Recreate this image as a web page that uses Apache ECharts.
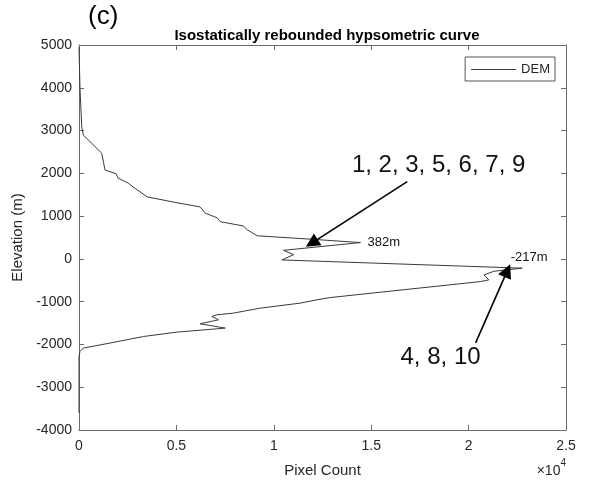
<!DOCTYPE html>
<html><head><meta charset="utf-8">
<script src="https://cdn.jsdelivr.net/npm/echarts@6/dist/echarts.min.js"></script>
<style>html,body{margin:0;padding:0;background:#fff}#c{width:590px;height:483px}</style>
</head><body><div id="c"></div>
<script>
// Hypsometric curve (pixel count vs elevation), in drawing order
const pixelCounts = [0, 50, 139, 221, 1167, 1337, 1900, 2000, 2520, 2780, 3500, 4830, 6220, 6300, 6480, 7095, 7250, 8430, 8640, 9150, 11900, 14450, 10500, 11020, 10420, 22750, 21300, 20790, 21040, 20620, 12900, 12220, 11360, 9306, 7920, 7080, 6820, 7160, 6220, 7510, 5020, 3310, 1590, 220, 50, 0, 0];
const elevations  = [4950, 4000, 3090, 2895, 2470, 2078, 1990, 1890, 1775, 1680, 1450, 1330, 1215, 1200, 1070, 960, 870, 770, 680, 540, 460, 382, 200, 100, -25, -217, -290, -374, -490, -530, -904, -957, -1034, -1151, -1268, -1308, -1347, -1424, -1518, -1618, -1712, -1814, -1968, -2085, -2165, -2281, -3600];
const xTicks = [0, 5000, 10000, 15000, 20000, 25000];
const yTicks = [-4000, -3000, -2000, -1000, 0, 1000, 2000, 3000, 4000, 5000];
const peakLabels = [{ name: '382m', count: 14450, elev: 382 }, { name: '-217m', count: 21800, elev: 40 }];
const groupLabels = [{ name: '1, 2, 3, 5, 6, 7, 9', count: 18460, elev: 2195 }, { name: '4, 8, 10', count: 18560, elev: -2312 }];
const arrows = [
  { from: [16850, 1805], to: [11950, 370] },
  { from: [20360, -1963], to: [21990, -273] }
];

const FONT = 'Liberation Sans, Arial, Helvetica, sans-serif';
const axisCol = '#6b6b6b';
const txtCol = '#262626';
const chart = echarts.init(document.getElementById('c'), null, { renderer: 'canvas' });
const data = pixelCounts.map((c, i) => [c, elevations[i]]);

const baseX = {
  type: 'value', min: xTicks[0], max: xTicks[xTicks.length - 1], interval: 5000,
  axisLine: { show: true, onZero: false, lineStyle: { color: axisCol, width: 1 } },
  axisTick: { show: true, inside: true, length: 5, lineStyle: { color: axisCol } },
  splitLine: { show: false }
};
const baseY = {
  type: 'value', min: yTicks[0], max: yTicks[yTicks.length - 1], interval: 1000,
  axisLine: { show: true, onZero: false, lineStyle: { color: axisCol, width: 1 } },
  axisTick: { show: true, inside: true, length: 5, lineStyle: { color: axisCol } },
  splitLine: { show: false }
};

chart.setOption({
  animation: false,
  backgroundColor: '#fff',
  textStyle: { fontFamily: FONT },
  title: {
    text: 'Isostatically rebounded hypsometric curve',
    left: 322, top: 23, textAlign: 'center',
    textStyle: { fontFamily: FONT, fontSize: 15, fontWeight: 'bold', color: '#000' }
  },
  grid: { left: 79, right: 24, top: 45, bottom: 53 },
  legend: {
    data: [{ name: 'DEM', icon: 'rect' }], right: 35, top: 57,
    borderColor: '#555', borderWidth: 1, borderRadius: 0,
    padding: [6, 5, 5, 6], itemWidth: 45, itemHeight: 1, itemGap: 4,
    itemStyle: { color: '#3a3a3a', borderWidth: 0 },
    lineStyle: { width: 0 },
    textStyle: { fontFamily: FONT, fontSize: 13, color: txtCol }
  },
  xAxis: [
    Object.assign({}, baseX, {
      position: 'bottom',
      name: 'Pixel Count', nameLocation: 'middle', nameGap: 33,
      nameTextStyle: { fontFamily: FONT, fontSize: 15, color: txtCol },
      axisLabel: { show: true, margin: 9, fontFamily: FONT, fontSize: 14, color: txtCol,
        formatter: v => String(v / 10000) }
    }),
    Object.assign({}, baseX, { position: 'top', axisLabel: { show: false } })
  ],
  yAxis: [
    Object.assign({}, baseY, {
      position: 'left',
      name: 'Elevation (m)', nameLocation: 'middle', nameGap: 52, nameRotate: 90,
      nameTextStyle: { fontFamily: FONT, fontSize: 15, color: txtCol },
      axisLabel: { show: true, margin: 7, fontFamily: FONT, fontSize: 14, color: txtCol,
        formatter: v => String(v) }
    }),
    Object.assign({}, baseY, { position: 'right', axisLabel: { show: false } })
  ],
  graphic: [
    { type: 'text', left: 88, top: 4, style: { text: '(c)', font: '26px ' + FONT, fill: '#000' } },
    { type: 'text', right: 24, top: 458, style: {
        text: '{a|\u00d710}{b|4}', fill: txtCol,
        rich: { a: { fontFamily: FONT, fontSize: 14, color: '#555', padding: [6, 0, 0, 0] },
                b: { fontFamily: FONT, fontSize: 10, color: '#555', verticalAlign: 'top' } } } }
  ],
  series: [
    {
      name: 'DEM', type: 'line', data: data, xAxisIndex: 0, yAxisIndex: 0,
      symbol: 'none', showSymbol: false,
      lineStyle: { color: '#3a3a3a', width: 1 },
      itemStyle: { color: '#3a3a3a' },
      markPoint: {
        symbol: 'circle', symbolSize: 0, silent: true,
        data: peakLabels.map(p => ({
          name: p.name, coord: [p.count, p.elev], value: p.name,
          label: { show: true, position: 'right', distance: 7, formatter: p.name,
            fontFamily: FONT, fontSize: 13, color: '#111' }
        })).concat(groupLabels.map(g => ({
          name: g.name, coord: [g.count, g.elev], value: g.name,
          label: { show: true, position: 'inside', formatter: g.name,
            fontFamily: FONT, fontSize: 24, color: '#111' }
        })))
      },
      markLine: {
        silent: true, symbol: ['none', 'triangle'], symbolSize: 14,
        lineStyle: { color: '#000', width: 1.6, type: 'solid' },
        itemStyle: { color: '#000' },
        label: { show: false },
        data: arrows.map(a => [{ coord: a.from }, { coord: a.to }])
      }
    }
  ]
});
</script></body></html>
